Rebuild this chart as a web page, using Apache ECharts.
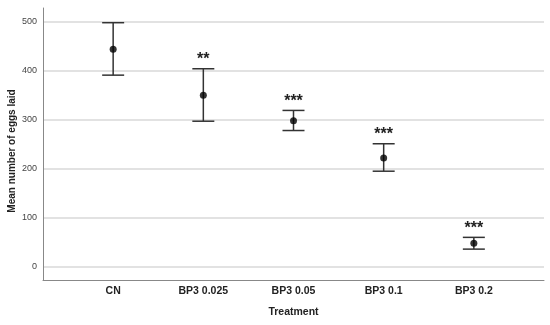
<!DOCTYPE html>
<html><head><meta charset="utf-8">
<script src="https://cdn.jsdelivr.net/npm/echarts@6/dist/echarts.min.js"></script>
<style>html,body{margin:0;padding:0;background:#fff}#c{width:550px;height:325px}</style>
</head><body><div id="c"></div>
<script>
var categories = ['CN', 'BP3 0.025', 'BP3 0.05', 'BP3 0.1', 'BP3 0.2'];
var means = [444, 350, 298, 222, 48];
var upper = [498, 404, 319, 251, 60];
var lower = [391, 297, 278, 195, 36];
var stars = ['', '**', '***', '***', '***'];
var yTicks = [0, 100, 200, 300, 400, 500];

var chart = echarts.init(document.getElementById('c'));
var errData = categories.map(function (c, i) { return [i, lower[i], upper[i], stars[i]]; });
var meanData = categories.map(function (c, i) { return [i, means[i]]; });

chart.setOption({
  animation: false,
  grid: { left: 43, right: 6, top: 8, bottom: 45, containLabel: false, outerBoundsMode: 'none' },
  graphic: [{
    type: 'text', x: 12, y: 151, rotation: Math.PI / 2,
    style: { text: 'Mean number of eggs laid', align: 'center', verticalAlign: 'middle', font: 'bold 10px "Liberation Sans"', fill: '#222' }
  }],
  xAxis: {
    type: 'value', min: -0.778, max: 4.778,
    name: 'Treatment', nameLocation: 'middle', nameGap: 27,
    nameTextStyle: { fontFamily: 'Liberation Sans', fontWeight: 'bold', fontSize: 10.5, color: '#222' },
    axisLine: { show: true, onZero: false, lineStyle: { color: '#888', width: 1 } },
    axisTick: { show: false },
    splitLine: { show: false },
    axisLabel: {
      customValues: [0, 1, 2, 3, 4],
      formatter: function (v) { return categories[Math.round(v)]; },
      fontFamily: 'Liberation Sans', fontWeight: 'bold', fontSize: 10.5, color: '#222', margin: 6
    }
  },
  yAxis: {
    type: 'value', min: -27, max: 528,
    axisLine: { show: true, onZero: false, lineStyle: { color: '#888', width: 1 } },
    axisTick: { show: false, customValues: yTicks },
    axisLabel: { customValues: yTicks, fontFamily: 'Liberation Sans', fontSize: 9, color: '#444', margin: 6 },
    splitLine: { show: true, lineStyle: { color: '#d9d9d9', width: 1.5 } }
  },
  series: [
    {
      type: 'custom',
      data: errData,
      renderItem: function (params, api) {
        var x = api.value(0);
        var lo = api.coord([x, api.value(1)]);
        var hi = api.coord([x, api.value(2)]);
        var hw = 11;
        var st = { stroke: '#333', lineWidth: 1.5 };
        var children = [
          { type: 'line', shape: { x1: lo[0], y1: lo[1], x2: hi[0], y2: hi[1] }, style: st },
          { type: 'line', shape: { x1: lo[0] - hw, y1: lo[1], x2: lo[0] + hw, y2: lo[1] }, style: st },
          { type: 'line', shape: { x1: hi[0] - hw, y1: hi[1], x2: hi[0] + hw, y2: hi[1] }, style: st }
        ];
        var s = api.value(3);
        if (s) {
          children.push({ type: 'text', style: { text: s, x: hi[0], y: hi[1] - 1, align: 'center', verticalAlign: 'bottom', font: 'bold 16px "Liberation Sans"', fill: '#222' } });
        }
        return { type: 'group', children: children };
      },
      encode: { x: 0, y: [1, 2] },
      z: 3
    },
    {
      type: 'scatter', data: meanData, symbol: 'circle', symbolSize: 7,
      itemStyle: { color: '#000' }, z: 4
    }
  ]
});
</script></body></html>
